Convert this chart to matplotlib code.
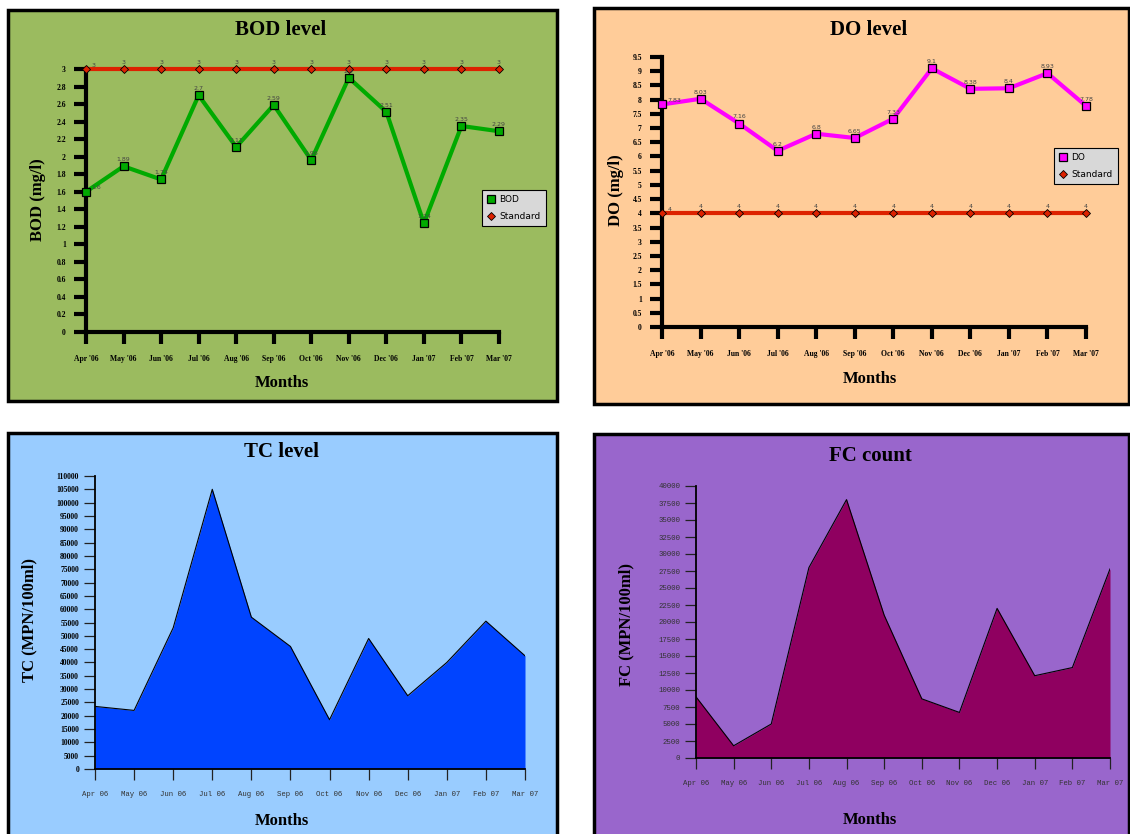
import matplotlib
matplotlib.use("Agg")
from matplotlib import pyplot as plt
from matplotlib.patches import Rectangle

# taille de la figure en pixels
W, H = 1130, 834

mois = ["Apr '06", "May '06", "Jun '06", "Jul '06", "Aug '06", "Sep '06",
        "Oct '06", "Nov '06", "Dec '06", "Jan '07", "Feb '07", "Mar '07"]
mois_court = ["Apr 06", "May 06", "Jun 06", "Jul 06", "Aug 06", "Sep 06",
              "Oct 06", "Nov 06", "Dec 06", "Jan 07", "Feb 07", "Mar 07"]

bod = [1.6, 1.89, 1.74, 2.7, 2.11, 2.59, 1.96, 2.9, 2.51, 1.24, 2.35, 2.29]
bod_standard = [3, 3, 3, 3, 3, 3, 3, 3, 3, 3, 3, 3]
bod_ticks = [0, 0.2, 0.4, 0.6, 0.8, 1, 1.2, 1.4, 1.6, 1.8, 2, 2.2, 2.4, 2.6, 2.8, 3]

do = [7.83, 8.03, 7.16, 6.2, 6.8, 6.65, 7.33, 9.1, 8.38, 8.4, 8.93, 7.78]
do_standard = [4, 4, 4, 4, 4, 4, 4, 4, 4, 4, 4, 4]
do_ticks = [0, 0.5, 1, 1.5, 2, 2.5, 3, 3.5, 4, 4.5, 5, 5.5, 6, 6.5, 7, 7.5, 8, 8.5, 9, 9.5]

tc = [23500, 22000, 53000, 105000, 57000, 46000, 18500, 49000, 27500, 40000, 55500, 42500]
tc_ticks = list(range(0, 110001, 5000))

fc = [9000, 1800, 5000, 28000, 38000, 21000, 8700, 6700, 22000, 12100, 13300, 27800]
fc_ticks = list(range(0, 40001, 2500))

SERIF = "Liberation Serif"
MONO = "Liberation Mono"

fig = plt.figure(figsize=(W / 100, H / 100), dpi=100)
fig.patch.set_facecolor("white")


def boite(x0, y0, x1, y1):
    # pixels (origine en haut a gauche) -> fraction de la figure
    return [x0 / W, 1 - y1 / H, (x1 - x0) / W, (y1 - y0) / H]


def cadre(x0, y0, x1, y1, couleur):
    r = Rectangle((x0 / W, 1 - y1 / H), (x1 - x0) / W, (y1 - y0) / H,
                  transform=fig.transFigure, facecolor=couleur,
                  edgecolor="black", lw=2.5, zorder=-5)
    fig.patches.append(r)


def textes(cx, ty, mx, my, lx, ly, titre, ylabel):
    fig.text(cx / W, 1 - ty / H, titre, ha="center", va="center",
             fontsize=15, fontweight="bold", family=SERIF)
    fig.text(mx / W, 1 - my / H, "Months", ha="center", va="center",
             fontsize=12, fontweight="bold", family=SERIF)
    fig.text(lx / W, 1 - ly / H, ylabel, ha="center", va="center",
             rotation=90, fontsize=12, fontweight="bold", family=SERIF)


def graphe_ligne(pos, valeurs, standard, ticks, ymax, couleur, nom, leg_pos):
    ax = fig.add_axes(boite(*pos))
    ax.set_zorder(2)
    ax.set_facecolor("none")
    x = list(range(len(valeurs)))
    ax.plot(x, standard, color="#DD2200", lw=3, marker="D", ms=4,
            mfc="#DD2200", mec="black", mew=0.6, label="Standard", zorder=3,
            clip_on=False)
    ax.plot(x, valeurs, color=couleur, lw=3, marker="s", ms=5.5,
            mfc=couleur, mec="black", mew=0.9, label=nom, zorder=4,
            clip_on=False)
    for i in x:
        dx, dy, ha = (0, 3, "center") if i > 0 else (4, 1, "left")
        ax.annotate(f"{valeurs[i]:g}", (i, valeurs[i]), xytext=(dx, dy),
                    textcoords="offset points", ha=ha, va="bottom",
                    fontsize=4.5, color="#444444", zorder=5)
        ax.annotate(f"{standard[i]:g}", (i, standard[i]), xytext=(dx, dy),
                    textcoords="offset points", ha=ha, va="bottom",
                    fontsize=4.5, color="#444444", zorder=5)
    ax.set_xlim(0, 11)
    ax.set_ylim(0, ymax)
    ax.set_xticks(x)
    ax.set_xticklabels(mois)
    ax.set_yticks(ticks)
    ax.set_yticklabels([f"{t:g}" for t in ticks])
    for s in ["top", "right"]:
        ax.spines[s].set_visible(False)
    for s in ["left", "bottom"]:
        ax.spines[s].set_linewidth(3)
    ax.tick_params(axis="both", width=3, length=8.5, color="black",
                   labelsize=5.5)
    ax.tick_params(axis="x", pad=8)
    ax.tick_params(axis="y", pad=6)
    for t in ax.get_xticklabels() + ax.get_yticklabels():
        t.set_family(SERIF)
        t.set_fontweight("bold")
    handles, labels = ax.get_legend_handles_labels()
    leg = ax.legend(handles[::-1], labels[::-1], loc="upper left",
                    bbox_to_anchor=(leg_pos[0] / W, 1 - leg_pos[1] / H),
                    bbox_transform=fig.transFigure, fontsize=6.5,
                    facecolor="#D8D8D8", edgecolor="black", framealpha=1,
                    fancybox=False, handlelength=0.8, handletextpad=0.6,
                    borderpad=0.6, labelspacing=0.9)
    leg.get_frame().set_linewidth(0.8)
    for ln in leg.get_lines():
        ln.set_linestyle("none")
    return ax


def graphe_aire(pos, valeurs, ticks, ymax, couleur):
    ax = fig.add_axes(boite(*pos))
    ax.set_zorder(2)
    ax.set_facecolor("none")
    x = list(range(len(valeurs)))
    ax.fill_between(x, valeurs, 0, color=couleur, lw=0, zorder=2)
    ax.plot(x, valeurs, color="black", lw=0.8, zorder=3)
    ax.set_xlim(0, 11)
    ax.set_ylim(0, ymax)
    ax.set_xticks(x)
    ax.set_xticklabels(mois_court)
    ax.set_yticks(ticks)
    for s in ["top", "right"]:
        ax.spines[s].set_visible(False)
    for s in ["left", "bottom"]:
        ax.spines[s].set_linewidth(1.3)
        ax.spines[s].set_zorder(4)
    ax.tick_params(axis="both", width=0.9, length=8, color="#222222",
                   labelsize=5.3)
    ax.tick_params(axis="x", pad=8, labelcolor="#333333")
    for t in ax.get_xticklabels():
        t.set_family(MONO)
    return ax


# ---------------- BOD ----------------
cadre(8, 10, 557, 401, "#9BBB5F")
graphe_ligne((86, 69, 499, 332), bod, bod_standard, bod_ticks, 3,
             "#00AA00", "BOD", (477, 185))
textes(281, 30, 282, 383, 38, 200, "BOD level", "BOD (mg/l)")

# ---------------- DO ----------------
cadre(594, 8, 1129, 404, "#FFCC99")
graphe_ligne((662, 57, 1086, 327), do, do_standard, do_ticks, 9.5,
             "#FF00FF", "DO", (1049, 143))
textes(869, 30, 870, 379, 616, 190, "DO level", "DO (mg/l)")

# ---------------- TC ----------------
cadre(8, 433, 557, 840, "#99CCFF")
ax_tc = graphe_aire((95, 476, 525, 769), tc, tc_ticks, 110000, "#0044FF")
ax_tc.set_yticklabels([str(t) for t in tc_ticks])
for t in ax_tc.get_yticklabels():
    t.set_family(SERIF)
    t.set_fontweight("bold")
    t.set_fontsize(5.5)
textes(282, 452, 282, 821, 29, 620, "TC level", "TC (MPN/100ml)")

# ---------------- FC ----------------
cadre(594, 434, 1129, 840, "#9966CC")
ax_fc = graphe_aire((696, 486, 1110, 758), fc, fc_ticks, 40000, "#8F0060")
ax_fc.set_yticklabels([str(t) for t in fc_ticks])
for t in ax_fc.get_yticklabels():
    t.set_family(MONO)
    t.set_fontsize(5.3)
    t.set_color("#333333")
textes(870, 456, 870, 820, 626, 625, "FC count", "FC (MPN/100ml)")

plt.savefig("out.png", dpi=100)
